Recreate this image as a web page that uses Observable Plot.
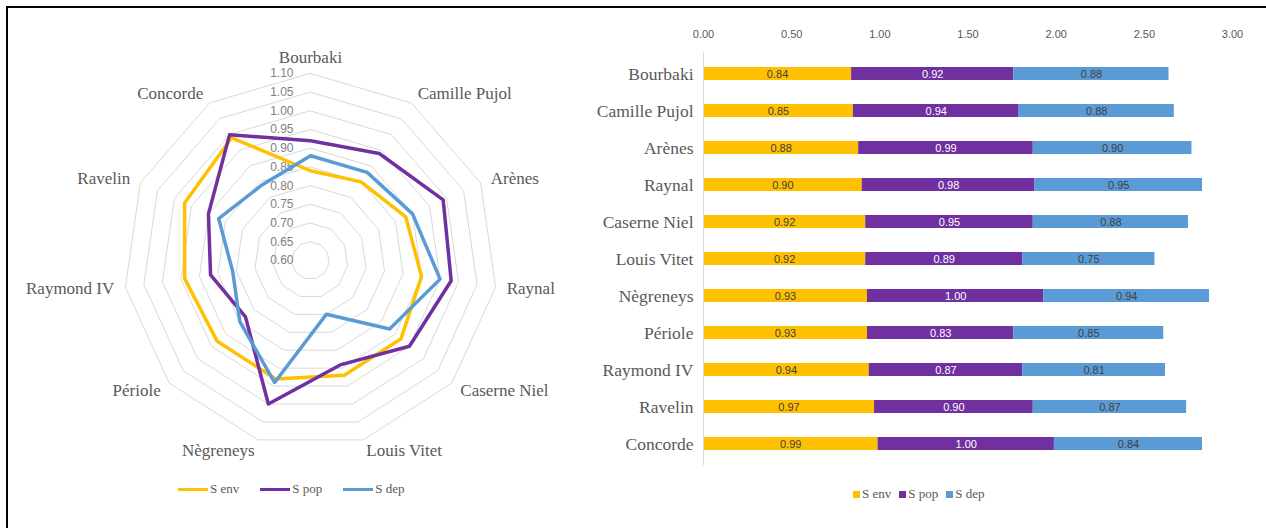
<!DOCTYPE html>
<html><head><meta charset="utf-8">
<script src="https://cdn.jsdelivr.net/npm/d3@7"></script>
<script src="https://cdn.jsdelivr.net/npm/@observablehq/plot@0.6"></script>
<style>
body{margin:0;background:#fff;}
#wrap{position:relative;width:1266px;height:528px;overflow:hidden;background:#fff;}
#frame{position:absolute;left:6px;top:6px;width:1280px;height:540px;border-top:2px solid #000;border-left:2px solid #000;pointer-events:none;}
#radar{position:absolute;left:0;top:0;}
#bars{position:absolute;left:580px;top:0;}
.legend{position:absolute;display:flex;align-items:center;color:#595959;font-family:"Liberation Serif",serif;font-size:13px;white-space:nowrap;}
.legend .item{display:flex;align-items:center;}
.legend .line{width:30px;height:3px;margin-right:2px;}
.legend .sq{width:7px;height:7px;margin-right:2px;}
</style></head>
<body><div id="wrap"><div id="radar"></div><div id="bars"></div>
<div id="radarLegend" class="legend"></div><div id="barLegend" class="legend"></div><div id="frame"></div></div>
<script>
// ---- data ----
const sites = ["Bourbaki","Camille Pujol","Arènes","Raynal","Caserne Niel","Louis Vitet","Nègreneys","Périole","Raymond IV","Ravelin","Concorde"];
const seriesNames = ["S env","S pop","S dep"];
const sEnv = [0.84,0.85,0.88,0.90,0.92,0.92,0.93,0.93,0.94,0.97,0.99];
const sPop = [0.92,0.94,0.99,0.98,0.95,0.89,1.00,0.83,0.87,0.90,1.00];
const sDep = [0.88,0.88,0.90,0.95,0.88,0.75,0.94,0.85,0.81,0.87,0.84];
const seriesColors = ["#FFC000","#7030A0","#5B9BD5"];
const radarTicks = [0.60,0.65,0.70,0.75,0.80,0.85,0.90,0.95,1.00,1.05,1.10];
const barTicks = [0,0.5,1,1.5,2,2.5,3];

const values = [sEnv, sPop, sDep];
const serif = "Liberation Serif";
const sans = "Liberation Sans";

// ---- radar ----
const rMin = radarTicks[0], rMax = radarTicks[radarTicks.length-1];
const n = sites.length;
const ang = i => 2*Math.PI*i/n;
const px = (i,v) => (v - rMin)*Math.sin(ang(i));
const py = (i,v) => (v - rMin)*Math.cos(ang(i));
const radarRows = [];
seriesNames.forEach((s,k) => values[k].forEach((v,i) => radarRows.push({series:s, i, value:v})));
const rings = radarTicks.slice(1).flatMap(t => sites.map((_,i) => ({t, i})));
const labelOff = 0.03;
const labels = sites.map((s,i) => ({site:s, i, sin:Math.sin(ang(i))}));
const RW = 620, RH = 528, CX = 310, CY = 260, K = 374;
const lx = d => px(d.i, rMax + labelOff);
const ly = d => py(d.i, rMax + labelOff);

const radar = Plot.plot({
  width: RW, height: RH, margin: 0,
  x: {domain: [-CX/K, (RW-CX)/K], axis: null},
  y: {domain: [-(RH-CY)/K, CY/K], axis: null},
  color: {domain: seriesNames, range: seriesColors},
  style: {background: "transparent"},
  marks: [
    Plot.line(rings, {x: d => px(d.i, d.t), y: d => py(d.i, d.t), z: "t", stroke: "#d9d9d9", strokeWidth: 1, curve: "linear-closed"}),
    Plot.text(radarTicks, {x: () => 0, y: t => t - rMin, text: t => t.toFixed(2), textAnchor: "end", dx: -17, fill: "#7f7f7f", fontSize: 12, fontFamily: sans}),
    Plot.line(radarRows, {x: d => px(d.i, d.value), y: d => py(d.i, d.value), z: "series", stroke: "series", strokeWidth: 3.5, curve: "linear-closed", strokeLinejoin: "round"}),
    Plot.text(labels.filter(d => d.sin > 0.1), {x: lx, y: ly, text: "site", textAnchor: "start", fill: "#595959", fontSize: 17, fontFamily: serif}),
    Plot.text(labels.filter(d => d.sin < -0.1), {x: lx, y: ly, text: "site", textAnchor: "end", fill: "#595959", fontSize: 17, fontFamily: serif}),
    Plot.text(labels.filter(d => Math.abs(d.sin) <= 0.1), {x: lx, y: ly, text: "site", textAnchor: "middle", dy: -5, fill: "#595959", fontSize: 17, fontFamily: serif})
  ]
});
document.getElementById("radar").appendChild(radar);

// ---- bars ----
const barRows = sites.flatMap((s,i) => seriesNames.map((name,k) => ({site:s, series:name, value:values[k][i]})));
const lab = (name) => d => d.series === name ? d.value.toFixed(2) : null;
const bars = Plot.plot({
  width: 686, height: 528,
  marginLeft: 123, marginRight: 34, marginTop: 52, marginBottom: 63,
  x: {domain: [0, 3], label: null},
  y: {domain: sites, paddingInner: 0.65, paddingOuter: 0.325, label: null},
  color: {domain: seriesNames, range: seriesColors},
  style: {background: "transparent"},
  marks: [
    Plot.barX(barRows, Plot.stackX({x: "value", y: "site", fill: "series"})),
    Plot.ruleX([0], {stroke: "#d9d9d9"}),
    Plot.axisX({anchor: "top", ticks: barTicks, tickFormat: d => d.toFixed(2), tickSize: 0, tickPadding: 15, fontSize: 11, fontFamily: sans, fill: "#595959", label: null}),
    Plot.axisY({tickSize: 0, tickPadding: 10, fontSize: 17.5, fontFamily: serif, fill: "#595959", label: null}),
    Plot.text(barRows, Plot.stackX({x: "value", y: "site", z: "series", text: lab("S env"), fill: "#404040", fontSize: 11, fontFamily: sans})),
    Plot.text(barRows, Plot.stackX({x: "value", y: "site", z: "series", text: lab("S pop"), fill: "#ffffff", fontSize: 11, fontFamily: sans})),
    Plot.text(barRows, Plot.stackX({x: "value", y: "site", z: "series", text: lab("S dep"), fill: "#404040", fontSize: 11, fontFamily: sans}))
  ]
});
document.getElementById("bars").appendChild(bars);

// ---- legends ----
const rl = document.getElementById("radarLegend");
rl.style.left = "178px"; rl.style.top = "481px"; rl.style.gap = "21px";
seriesNames.forEach((s,k) => {
  const it = document.createElement("div"); it.className = "item";
  it.innerHTML = `<span class="line" style="background:${seriesColors[k]}"></span><span>${s}</span>`;
  rl.appendChild(it);
});
const bl = document.getElementById("barLegend");
bl.style.left = "853px"; bl.style.top = "486px"; bl.style.gap = "8px";
seriesNames.forEach((s,k) => {
  const it = document.createElement("div"); it.className = "item";
  it.innerHTML = `<span class="sq" style="background:${seriesColors[k]}"></span><span>${s}</span>`;
  bl.appendChild(it);
});
</script>
</body></html>
